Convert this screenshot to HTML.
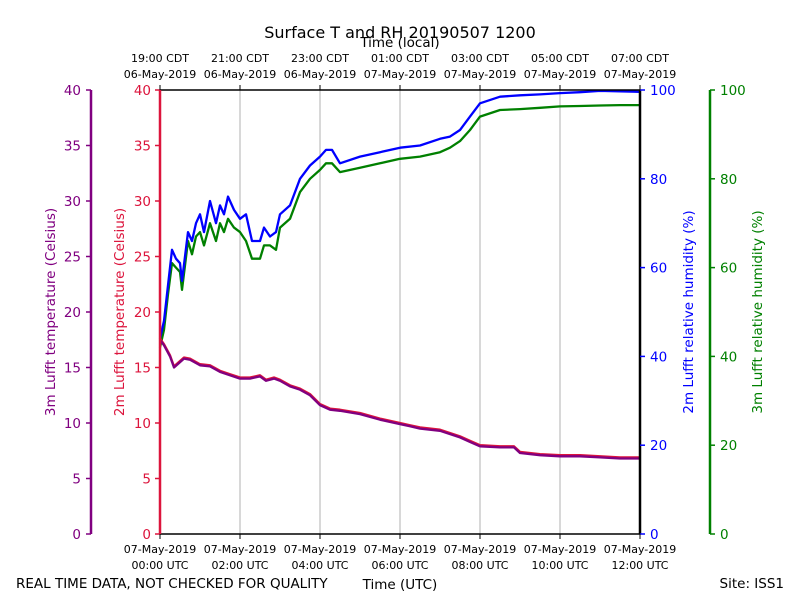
<!DOCTYPE html>
<html><head><meta charset="utf-8">
<style>
body{margin:0;background:#fff;}
svg{display:block;font-family:"DejaVu Sans","Liberation Sans",sans-serif;}
</style></head>
<body>
<svg id="chart" width="800" height="600" viewBox="0 0 800 600"></svg>
<script>
const hoursT = [0,0.1,0.25,0.35,0.6,0.75,1,1.25,1.5,1.75,2,2.25,2.5,2.65,2.85,3,3.25,3.5,3.75,4,4.25,4.5,5,5.5,6,6.25,6.5,7,7.5,7.75,8,8.5,8.85,9,9.5,10,10.5,11,11.5,12];
const temp3m = [17.5,17,16,15,15.8,15.7,15.2,15.1,14.6,14.3,14.0,14.0,14.2,13.8,14.0,13.8,13.3,13.0,12.5,11.6,11.2,11.1,10.8,10.3,9.9,9.7,9.5,9.3,8.7,8.3,7.9,7.8,7.8,7.3,7.1,7.0,7.0,6.9,6.8,6.8];
const temp2m = [17.6,17.1,16.1,15.1,15.9,15.8,15.3,15.2,14.7,14.4,14.1,14.1,14.3,13.9,14.1,13.9,13.4,13.1,12.6,11.7,11.3,11.2,10.9,10.4,10.0,9.8,9.6,9.4,8.8,8.4,8.0,7.9,7.9,7.4,7.2,7.1,7.1,7.0,6.9,6.9];
const hoursRH = [0,0.1,0.2,0.3,0.4,0.5,0.55,0.7,0.8,0.9,1,1.1,1.25,1.4,1.5,1.6,1.7,1.85,2,2.15,2.3,2.5,2.6,2.75,2.9,3,3.25,3.5,3.75,4,4.15,4.3,4.5,5,5.5,6,6.5,7,7.25,7.5,7.75,8,8.5,9,9.5,10,10.5,11,11.5,12];
const rh2m = [44,48,56,64,62,61,57,68,66,70,72,68,75,70,74,72,76,73,71,72,66,66,69,67,68,72,74,80,83,85,86.5,86.5,83.5,85,86,87,87.5,89,89.5,91,94,97,98.5,98.8,99,99.3,99.5,99.8,99.7,99.6];
const rh3m = [42,46,54,61,60,59,55,66,63,67,68,65,70,66,70,68,71,69,68,66,62,62,65,65,64,69,71,77,80,82,83.5,83.5,81.5,82.5,83.5,84.5,85,86,87,88.5,91,94,95.5,95.7,96,96.3,96.4,96.5,96.6,96.6];
const tTicks = [0,5,10,15,20,25,30,35,40];
const rhTicks = [0,20,40,60,80,100];
const utcLabels = ["00:00 UTC","02:00 UTC","04:00 UTC","06:00 UTC","08:00 UTC","10:00 UTC","12:00 UTC"];
const cdtLabels = ["19:00 CDT","21:00 CDT","23:00 CDT","01:00 CDT","03:00 CDT","05:00 CDT","07:00 CDT"];
const utcDates = ["07-May-2019","07-May-2019","07-May-2019","07-May-2019","07-May-2019","07-May-2019","07-May-2019"];
const cdtDates = ["06-May-2019","06-May-2019","06-May-2019","07-May-2019","07-May-2019","07-May-2019","07-May-2019"];

const X0=160,X1=640,Y0=534,Y1=90;
const xs=h=>X0+(X1-X0)*h/12;
const yT=t=>Y0-(Y0-Y1)*t/40;
const yR=r=>Y0-(Y0-Y1)*r/100;
const svg=document.getElementById('chart');
const NS='http://www.w3.org/2000/svg';
function mk(tag,attrs,parent){const e=document.createElementNS(NS,tag);for(const k in attrs)e.setAttribute(k,attrs[k]);(parent||svg).appendChild(e);return e;}
function txt(x,y,s,attrs){const e=mk('text',Object.assign({x:x,y:y},attrs||{}));e.textContent=s;return e;}

for(let i=1;i<6;i++){const g=mk('line',{x1:xs(i*2),x2:xs(i*2),y1:Y1,y2:Y0,stroke:'#b0b0b0','stroke-width':1});

}

function line(hx,vals,fy,color,name){
  const d=vals.map((v,i)=>(i?'L':'M')+xs(hx[i]).toFixed(1)+','+fy(v).toFixed(1)).join('');
  const p=mk('path',{d:d,fill:'none',stroke:color,'stroke-width':2.3,'stroke-linejoin':'round'});
  
  
}
line(hoursRH,rh3m,yR,'#008000','rh-3m-line');
line(hoursRH,rh2m,yR,'#0000ff','rh-2m-line');
line(hoursT,temp2m,yT,'#dc143c','temp-2m-line');
line(hoursT,temp3m,yT,'#800080','temp-3m-line');

mk('line',{x1:X0,x2:X1,y1:Y1,y2:Y1,stroke:'#000','stroke-width':1.5});
mk('line',{x1:X0,x2:X1,y1:Y0,y2:Y0,stroke:'#000','stroke-width':1.5});
mk('line',{x1:X1,x2:X1,y1:Y1,y2:Y0,stroke:'#000','stroke-width':2.5});
mk('line',{x1:X0,x2:X0,y1:Y1,y2:Y0,stroke:'#dc143c','stroke-width':2.5});
mk('line',{x1:91,x2:91,y1:Y1,y2:Y0,stroke:'#800080','stroke-width':2.5});
mk('line',{x1:710,x2:710,y1:Y1,y2:Y0,stroke:'#008000','stroke-width':2.5});

tTicks.forEach(t=>{
  const y=yT(t);
  mk('line',{x1:X0-5,x2:X0,y1:y,y2:y,stroke:'#dc143c','stroke-width':1.5});
  const a=txt(X0-9,y+5,String(t),{fill:'#dc143c','font-size':13.5,'text-anchor':'end'});
  
  
  mk('line',{x1:86,x2:91,y1:y,y2:y,stroke:'#800080','stroke-width':1.5});
  const b=txt(81,y+5,String(t),{fill:'#800080','font-size':13.5,'text-anchor':'end'});
  
  
});
rhTicks.forEach(r=>{
  const y=yR(r);
  mk('line',{x1:X1,x2:X1+5,y1:y,y2:y,stroke:'#0000ff','stroke-width':1.5});
  const a=txt(X1+10,y+5,String(r),{fill:'#0000ff','font-size':13.5});
  
  
  mk('line',{x1:710,x2:715,y1:y,y2:y,stroke:'#008000','stroke-width':1.5});
  const b=txt(720,y+5,String(r),{fill:'#008000','font-size':13.5});
  
  
});
utcLabels.forEach((s,i)=>{
  const x=xs(i*2);
  mk('line',{x1:x,x2:x,y1:Y0,y2:Y0+5,stroke:'#000','stroke-width':1});
  mk('line',{x1:x,x2:x,y1:Y1-5,y2:Y1,stroke:'#000','stroke-width':1});
  const a=txt(x,553,utcDates[i],{'font-size':11,'text-anchor':'middle'});
  
  
  const b=txt(x,569,s,{'font-size':11,'text-anchor':'middle'});
  
  
  const c=txt(x,62,cdtLabels[i],{'font-size':11,'text-anchor':'middle'});
  
  
  const d=txt(x,78,cdtDates[i],{'font-size':11,'text-anchor':'middle'});
  
  
});
</script>
<svg width="800" height="600" style="position:absolute;left:0;top:0;font-family:'DejaVu Sans','Liberation Sans',sans-serif">
<text x="400" y="38" font-size="16" text-anchor="middle">Surface T and RH 20190507 1200</text>
<text x="400" y="47" font-size="13.5" text-anchor="middle">Time (local)</text>
<text x="400" y="589" font-size="13.5" text-anchor="middle">Time (UTC)</text>
<text x="16" y="588" font-size="13.5">REAL TIME DATA, NOT CHECKED FOR QUALITY</text>
<text x="784" y="588" font-size="13.5" text-anchor="end">Site: ISS1</text>
<text transform="translate(55,312) rotate(-90)" font-size="13.5" fill="#800080" text-anchor="middle">3m Lufft temperature (Celsius)</text>
<text transform="translate(124,312) rotate(-90)" font-size="13.5" fill="#dc143c" text-anchor="middle">2m Lufft temperature (Celsius)</text>
<text transform="translate(693,312) rotate(-90)" font-size="13.5" fill="#0000ff" text-anchor="middle">2m Lufft relative humidity (%)</text>
<text transform="translate(762,312) rotate(-90)" font-size="13.5" fill="#008000" text-anchor="middle">3m Lufft relative humidity (%)</text>
</svg>
</body></html>
